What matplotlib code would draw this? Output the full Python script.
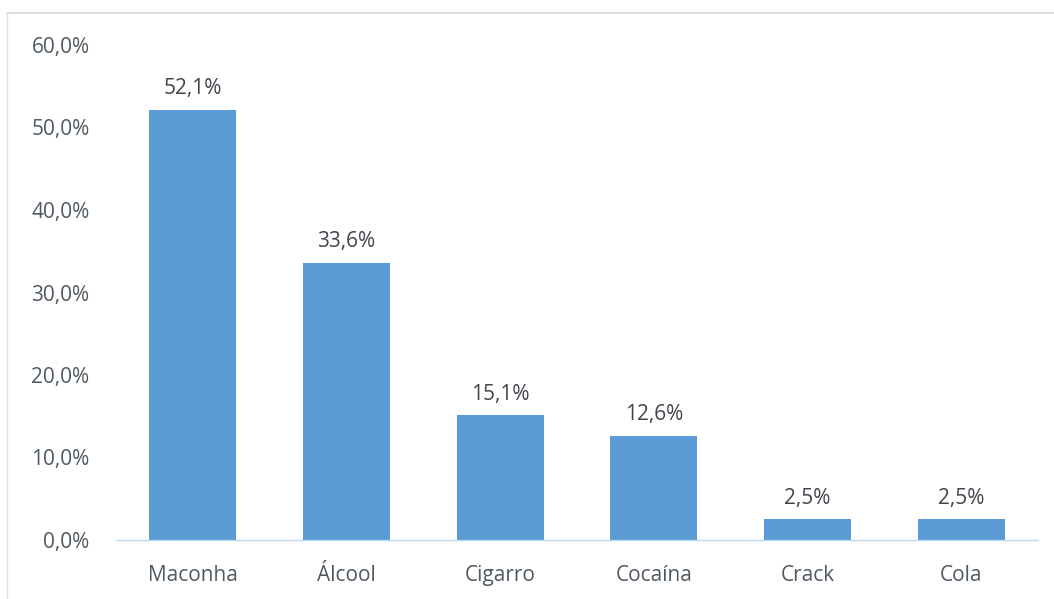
import numpy as np
from matplotlib import pyplot as plt
from matplotlib.lines import Line2D
from matplotlib.ticker import FuncFormatter

plt.rcParams['font.family'] = ['Open Sans', 'DejaVu Sans']

categories = ['Maconha', 'Álcool', 'Cigarro', 'Cocaína', 'Crack', 'Cola']
values = [52.1, 33.6, 15.1, 12.6, 2.5, 2.5]
yticks = [0, 10, 20, 30, 40, 50, 60]

fig = plt.figure(figsize=(10.54, 5.99), dpi=100)
# light frame (only top and left edges visible in the crop)
fig.lines.append(Line2D([7/1054, 1.0], [1 - 13/599, 1 - 13/599], transform=fig.transFigure,
                        color='#D0D8E0', linewidth=1.2))
fig.lines.append(Line2D([7/1054, 7/1054], [0.0, 1 - 13/599], transform=fig.transFigure,
                        color='#E2E2E2', linewidth=1.0))

ax = fig.add_axes([116/1054, 1 - 540/599, 922/1054, (540 - 45)/599])
x = np.arange(len(categories))
ax.bar(x, values, width=0.565, color='#5B9BD5', zorder=2)

for xi, v in zip(x, values):
    lbl = f"{v:.1f}%".replace('.', ',')
    ax.text(xi, v + 1.3, lbl, ha='center', va='bottom', fontsize=15, color='#3F454C')

ax.set_xlim(-0.5, len(categories) - 0.5)
ax.set_ylim(0, 60)
ax.set_yticks(yticks)
ax.yaxis.set_major_formatter(FuncFormatter(lambda v, p: f"{v:.1f}%".replace('.', ',')))
ax.set_xticks(x)
ax.set_xticklabels(categories)
ax.tick_params(axis='both', length=0, labelsize=15, labelcolor='#4F5962')
ax.tick_params(axis='x', pad=18)
ax.tick_params(axis='y', pad=19)

for s in ['top', 'right', 'left']:
    ax.spines[s].set_visible(False)
ax.spines['bottom'].set_color('#BDD7EE')
ax.spines['bottom'].set_linewidth(1.0)

fig.savefig('out.png', dpi=100)
